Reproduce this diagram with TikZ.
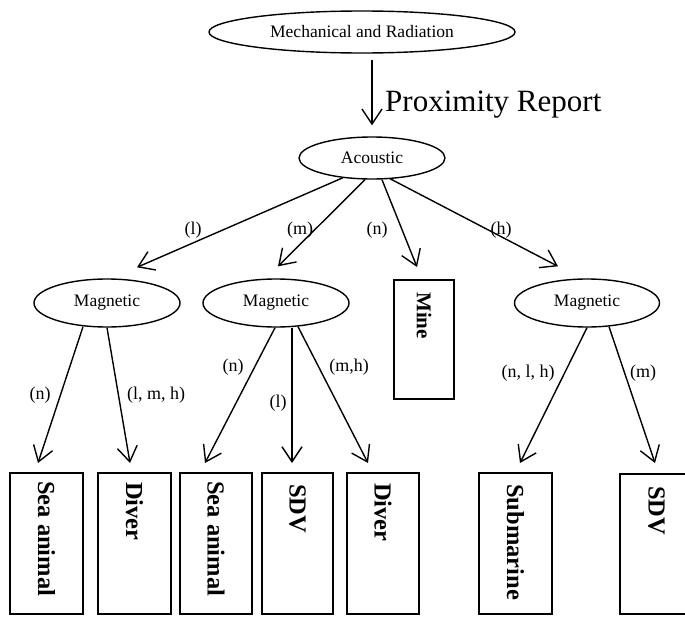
\documentclass[tikz,border=0pt]{standalone}
\usepackage{fontspec}
\setmainfont{Liberation Serif}
\usetikzlibrary{shapes.geometric,arrows.meta,calc}
\begin{document}
\begin{tikzpicture}[x=1pt,y=1pt,
 ell/.style={draw, ellipse, line width=1.4pt, inner sep=0pt, font=\fontsize{17.5}{20}\selectfont},
 box/.style={draw, line width=1.5pt, anchor=north, inner sep=0pt},
 boxtxt/.style={rotate=-90, anchor=west, font=\bfseries\fontsize{24.5}{28}\selectfont, inner sep=0pt},
 arr/.style={line width=1.4pt, -{Straight Barb[length=15pt,width=20pt]}},
 lab/.style={font=\fontsize{18}{21}\selectfont, inner sep=0pt}]
\useasboundingbox (0,0) rectangle (685,-616);

% ellipses
\node[ell, minimum width=306pt, minimum height=42pt] (mech) at (362,-32) {Mechanical and Radiation};
\node[ell, minimum width=146pt, minimum height=42pt] (ac) at (372,-158) {Acoustic};
\node[ell, minimum width=146pt, minimum height=48pt] (m1) at (107,-303) {Magnetic};
\node[ell, minimum width=146pt, minimum height=48pt] (m2) at (276,-303) {Magnetic};
\node[ell, minimum width=145pt, minimum height=48pt] (m3) at (587,-303) {Magnetic};

\node[anchor=base west, inner sep=0pt, font=\fontsize{31}{36}\selectfont] (prox) at (385,-111) {Proximity Report};

% boxes
\node[box, minimum width=60pt, minimum height=119pt] (mine) at (424,-279) {};
\node[boxtxt, font=\bfseries\fontsize{21}{24}\selectfont] (minet) at ([yshift=-13pt]mine.north) {Mine};

\node[box, minimum width=73pt, minimum height=141pt] (sa1) at (46.5,-472) {};
\node[box, minimum width=73pt, minimum height=141pt] (d1) at (134.5,-472) {};
\node[box, minimum width=72pt, minimum height=141pt] (sa2) at (216,-472) {};
\node[box, minimum width=71pt, minimum height=141pt] (sdv1) at (297.5,-472) {};
\node[box, minimum width=72pt, minimum height=141pt] (d2) at (383,-472) {};
\node[box, minimum width=73pt, minimum height=141pt] (sub) at (515.5,-472) {};
\node[box, minimum width=73pt, minimum height=140pt] (sdv2) at (656.5,-473) {};

\node[boxtxt] (sa1t) at ([yshift=-9pt]sa1.north) {Sea animal};
\node[boxtxt] (d1t) at ([yshift=-10pt]d1.north) {Diver};
\node[boxtxt] (sa2t) at ([yshift=-9pt]sa2.north) {Sea animal};
\node[boxtxt] (sdv1t) at ([yshift=-12pt]sdv1.north) {SDV};
\node[boxtxt] (d2t) at ([yshift=-11pt]d2.north) {Diver};
\node[boxtxt] (subt) at ([yshift=-12pt]sub.north) {Submarine};
\node[boxtxt] (sdv2t) at ([yshift=-13pt]sdv2.north) {SDV};

% connectors
\draw[arr, shorten <=6pt, shorten >=11pt] (mech.south -| ac.north) -- (ac.north);

\draw[arr] ([shift={(-29pt,2pt)}]ac.south) -- ([shift={(30pt,11pt)}]m1.north);
\draw[arr] ([shift={(-7pt,0pt)}]ac.south) -- ([shift={(2pt,12pt)}]m2.north);
\draw[arr] ([shift={(10pt,0pt)}]ac.south) -- ([shift={(-7pt,12pt)}]mine.north);
\draw[arr] ([shift={(18pt,1pt)}]ac.south) -- ([shift={(-29pt,12pt)}]m3.north);

\draw[arr] ([shift={(-24pt,1pt)}]m1.south) -- ([shift={(-8.5pt,9pt)}]sa1.north);
\draw[arr] ([shift={(0pt,0pt)}]m1.south) -- ([shift={(-4.5pt,9pt)}]d1.north);

\draw[arr] ([shift={(-1pt,0pt)}]m2.south) -- ([shift={(-11pt,9pt)}]sa2.north);
\draw[arr] ([shift={(16pt,0pt)}]m2.south) -- ([shift={(-5.5pt,9pt)}]sdv1.north);
\draw[arr] ([shift={(22pt,1pt)}]m2.south) -- ([shift={(-15pt,9pt)}]d2.north);

\draw[arr] ([shift={(0pt,0pt)}]m3.south) -- ([shift={(4.5pt,9pt)}]sub.north);
\draw[arr] ([shift={(22pt,1pt)}]m3.south) -- ([shift={(-1.5pt,10pt)}]sdv2.north);

% labels
\node[lab] (ll) at (193,-230) {(l)};
\node[lab] (lm) at (300,-230) {(m)};
\node[lab] (ln) at (377,-230) {(n)};
\node[lab] (lh) at (501,-230) {(h)};

\node[lab] (l1n) at (40,-395) {(n)};
\node[lab] (l1lmh) at (156,-395) {(l, m, h)};
\node[lab] (l2n) at (233,-367) {(n)};
\node[lab] (l2l) at (278,-403) {(l)};
\node[lab] (l2mh) at (349,-367) {(m,h)};
\node[lab] (l3nlh) at (528,-373) {(n, l, h)};
\node[lab] (l3m) at (643,-373) {(m)};
\end{tikzpicture}
\end{document}
